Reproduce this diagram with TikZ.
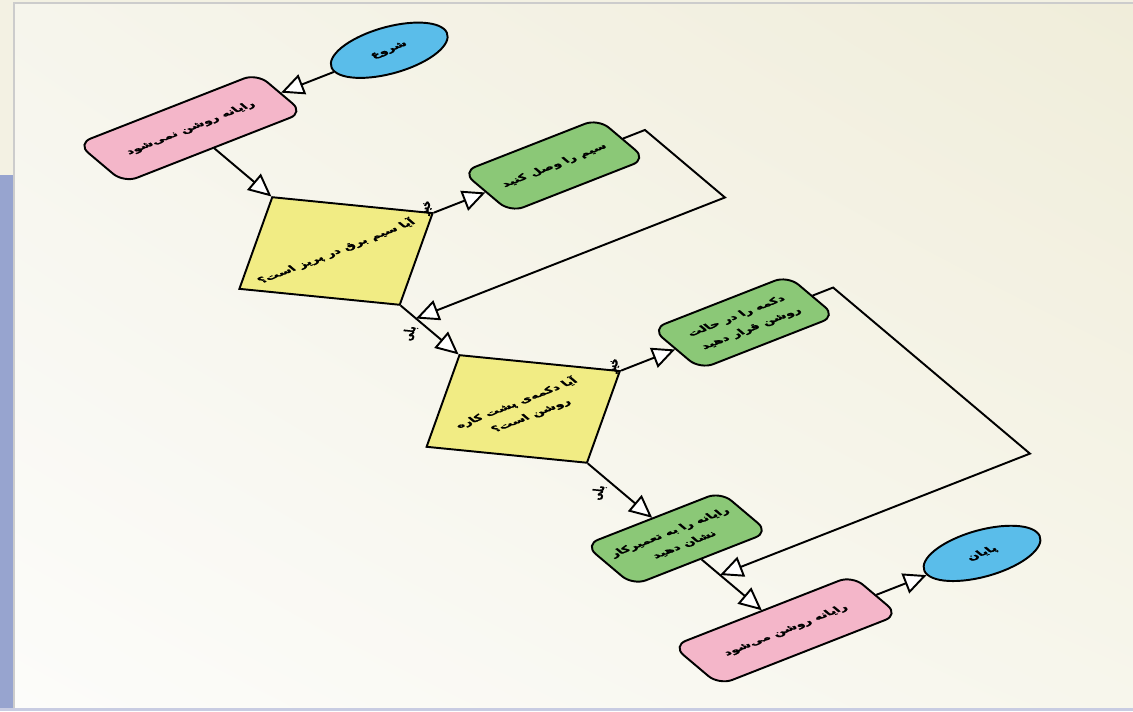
\documentclass[tikz,border=0pt]{standalone}
\usepackage{fontspec}
\usetikzlibrary{shapes.geometric,arrows.meta,shadings}
\TeXXeTstate=1
\newfontfamily\farsi[Script=Arabic, BoldFeatures={FakeBold=1.2}]{DejaVu Sans}
\newcommand{\fatxt}[1]{{\farsi\bfseries\beginR #1\endR}}
\definecolor{boxpink}{RGB}{244,182,201}
\definecolor{boxgreen}{RGB}{139,200,119}
\definecolor{boxyellow}{RGB}{241,236,132}
\definecolor{boxblue}{RGB}{90,189,234}
\definecolor{pagecream}{RGB}{243,241,227}
\definecolor{sidebar}{RGB}{151,164,207}
\definecolor{bottomline}{RGB}{200,204,226}
\definecolor{panelul}{RGB}{246,245,236}
\definecolor{panelur}{RGB}{240,237,218}
\definecolor{panelll}{RGB}{252,252,250}
\definecolor{panellr}{RGB}{247,246,236}
\tikzset{
	box/.style={draw, line width=1.1pt, rounded corners=8pt, minimum width=2.8cm, minimum height=1.5cm, align=center, font=\fontsize{7}{13}\selectfont},
	act/.style={box, fill=boxgreen},
	msg/.style={box, fill=boxpink, minimum width=3.7cm, minimum height=1.45cm},
	ask/.style={draw, line width=1.1pt, diamond, aspect=1, minimum width=4cm, minimum height=4cm, inner sep=0pt, fill=boxyellow, align=center, font=\fontsize{7}{13}\selectfont},
	term/.style={draw, line width=1.1pt, ellipse, minimum width=2.25cm, minimum height=1.3cm, inner sep=0pt, fill=boxblue, font=\fontsize{7}{13}\selectfont},
	lbl/.style={font=\fontsize{7}{8}\selectfont, inner sep=1pt, rotate=45},
	arr/.style={line width=1.1pt, -{Triangle[open, fill=white, length=13pt, width=12pt]}}
}
\begin{document}
\begin{tikzpicture}
	\useasboundingbox (0,0) rectangle (22.66,14.22);
	\fill[pagecream] (0,0) rectangle (22.66,14.22);
	\fill[sidebar] (0,0) rectangle (0.28,10.72);
	\shade[upper left=panelul, upper right=panelur, lower left=panelll, lower right=panellr] (0.28,0.06) rectangle (22.66,14.16);
	\draw[black!20, line width=1.5pt] (0.28,0.06) |- (22.66,14.16);
	\fill[bottomline] (0,0) rectangle (22.66,0.06);
	\begin{scope}[cm={0.97,0.38,-0.64,0.54,(6.72,9.2)}, transform shape]
		\node[term] (s) at (4.1,4.55) {\fatxt{شروع}};
		\node[msg] (n) at (0,4.55) {\fatxt{رایانه روشن نمی‌شود}};
		\node[ask] (q1) at (0,0) {\fatxt{آیا سیم برق در پریز است؟}};
		\node[act] (w) at (4.5,0) {\fatxt{سیم را وصل کنید}};
		\node[ask] (q2) at (0,-5.85) {\fatxt{آیا دکمه‌ی پشت کاره}\\\fatxt{روشن است؟}};
		\node[act] (b) at (4.55,-5.85) {\fatxt{دکمه را در حالت}\\\fatxt{روشن قرار دهید}};
		\node[act] (r) at (0,-10.65) {\fatxt{رایانه را به تعمیرکار}\\\fatxt{نشان دهید}};
		\node[msg] (o) at (0,-14.05) {\fatxt{رایانه روشن می‌شود}};
		\node[term] (e) at (4.05,-14.05) {\fatxt{پایان}};
		\coordinate (j1) at (0,-2.5);
		\coordinate (j2) at (0,-12);
		\draw[arr] (s.west) to (n.east);
		\draw[arr] (n.south) to (q1.north);
		\draw[arr] (q1.east) to node[lbl, pos=.15, above=3pt] {\fatxt{خیر}} (w.west);
		\draw[arr] (q1.south) to node[lbl, pos=.25, left=6pt] {\fatxt{بلی}} (q2.north);
		\draw[arr] (w.east) -- ++(0.45,0) |- (j1);
		\draw[arr] (q2.east) to node[lbl, pos=.15, above=3pt] {\fatxt{خیر}} (b.west);
		\draw[arr] (q2.south) to node[lbl, pos=.25, left=6pt] {\fatxt{بلی}} (r.north);
		\draw[arr] (b.east) -- ++(0.42,0) |- (j2);
		\draw[arr] (r.south) to (o.north);
		\draw[arr] (o.east) to (e.west);
	\end{scope}
\end{tikzpicture}
\end{document}
